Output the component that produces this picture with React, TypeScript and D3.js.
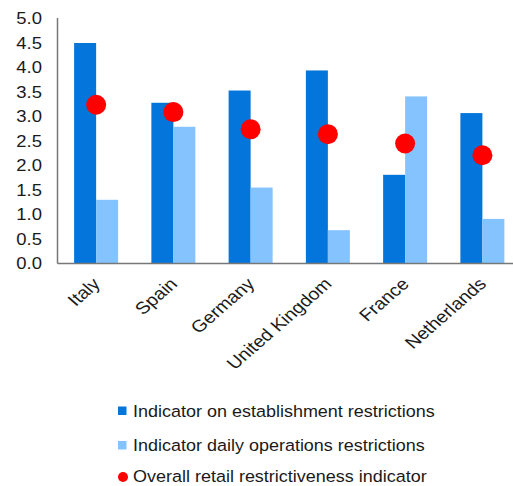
import React from "react";
import * as d3 from "d3";

const categories = ["Italy", "Spain", "Germany", "United Kingdom", "France", "Netherlands"];
const establishment = [4.5, 3.28, 3.53, 3.94, 1.81, 3.07];
const dailyOps = [1.3, 2.79, 1.55, 0.68, 3.41, 0.91];
const overall = [3.24, 3.09, 2.74, 2.64, 2.45, 2.21];
const yTicks = [0, 0.5, 1, 1.5, 2, 2.5, 3, 3.5, 4, 4.5, 5];
const legendLabels = [
  "Indicator on establishment restrictions",
  "Indicator daily operations restrictions",
  "Overall retail restrictiveness indicator",
];

const W = 513;
const H = 486;
const left = 57.5;
const right = 521;
const top = 18.5;
const bottom = 263.5;
const DARK = "#0476DB";
const LIGHT = "#85C3FF";
const RED = "#FF0000";
const FONT = "'Liberation Sans', Arial, sans-serif";
const TEXT = "#1a1a1a";
const legendY = [411, 445.5, 476];

export default function App() {
  const x = d3.scaleBand<string>().domain(categories).range([left, right]).paddingInner(0).paddingOuter(0);
  const y = d3.scaleLinear().domain([0, 5]).range([bottom, top]);
  const bw = 22;

  return (
    <svg width={W} height={H} style={{ position: "absolute", left: 0, top: 0, background: "#fff" }}>
      {categories.map((c, i) => {
        const cx = (x(c) as number) + x.bandwidth() / 2;
        return (
          <g key={c}>
            <rect x={cx - bw} y={y(establishment[i])} width={bw} height={bottom - y(establishment[i])} fill={DARK} />
            <rect x={cx} y={y(dailyOps[i])} width={bw} height={bottom - y(dailyOps[i])} fill={LIGHT} />
          </g>
        );
      })}
      {categories.map((c, i) => {
        const cx = (x(c) as number) + x.bandwidth() / 2;
        return <circle key={c} cx={cx} cy={y(overall[i])} r={10} fill={RED} />;
      })}
      <line x1={left} x2={left} y1={top - 0.5} y2={bottom} stroke="#777" strokeWidth={1.5} />
      <line x1={left} x2={W} y1={bottom} y2={bottom} stroke="#777" strokeWidth={1.5} />
      {yTicks.map((t) => (
        <text key={t} transform={`translate(42,${y(t)}) scale(1.12,1)`} textAnchor="end" dominantBaseline="central" fontFamily={FONT} fontSize={16.5} fill={TEXT}>
          {t.toFixed(1)}
        </text>
      ))}
      {categories.map((c) => {
        const cx = (x(c) as number) + x.bandwidth() / 2;
        return (
          <text key={c} transform={`translate(${cx + 5},${285}) scale(1.15,1) rotate(-45)`} textAnchor="end" fontFamily={FONT} fontSize={17} fill={TEXT}>
            {c}
          </text>
        );
      })}
      {legendLabels.map((l, i) => {
        const cy = legendY[i];
        return (
          <g key={l}>
            {i < 2 ? (
              <rect x={118} y={cy - 4.5} width={8.5} height={8.5} fill={i === 0 ? DARK : LIGHT} />
            ) : (
              <circle cx={123} cy={cy + 1} r={5} fill={RED} />
            )}
            <text transform={`translate(133,${cy}) scale(1.09,1)`} dominantBaseline="central" fontFamily={FONT} fontSize={16.5} fill={TEXT}>
              {l}
            </text>
          </g>
        );
      })}
    </svg>
  );
}
